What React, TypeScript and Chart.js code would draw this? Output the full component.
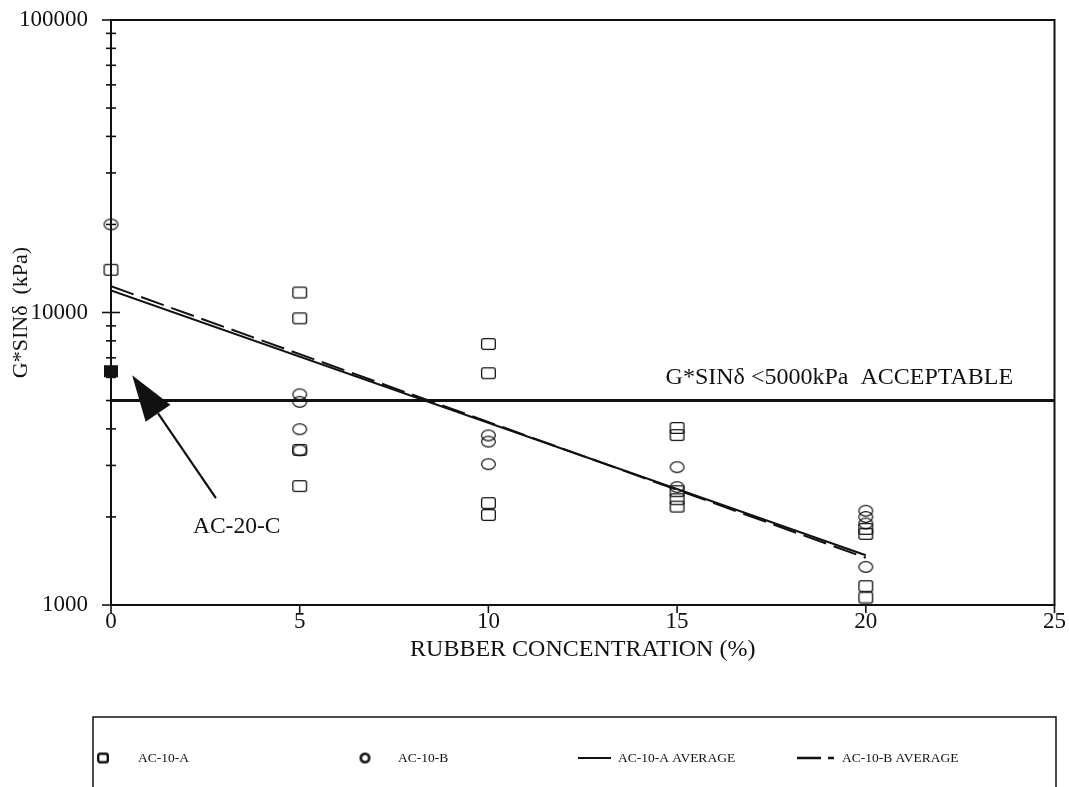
import React, { useEffect, useRef } from "react";
import { Chart, registerables } from "chart.js";

Chart.register(...registerables);

// Rubber concentration (%) and measured G*sinδ (kPa) for each binder
const ac10aX = [0, 5, 5, 5, 5, 10, 10, 10, 10, 15, 15, 15, 15, 15, 20, 20, 20, 20];
const ac10aY = [14000, 11700, 9550, 3390, 2550, 7800, 6200, 2230, 2030, 4030, 3810, 2450, 2300, 2170, 1820, 1750, 1160, 1060];

const ac10bX = [0, 5, 5, 5, 5, 10, 10, 10, 15, 15, 20, 20, 20, 20];
const ac10bY = [20000, 5250, 4950, 3990, 3380, 3800, 3620, 3030, 2960, 2530, 2100, 2000, 1900, 1350];

const ac20cX = [0];
const ac20cY = [6300];

// Trend lines (averages) at 0 % and 20 % rubber
const avgX = [0, 20];
const avgAY = [11900, 1480];
const avgBY = [12300, 1450];

// Acceptance limit
const limitX = [0, 25];
const limitY = [5000, 5000];

const xTicks = [0, 5, 10, 15, 20, 25];
const yMajor = [1000, 10000, 100000];
const yMinor = [2000, 3000, 4000, 5000, 6000, 7000, 8000, 9000, 20000, 30000, 40000, 50000, 60000, 70000, 80000, 90000];

const limitText = "G*SINδ <5000kPa  ACCEPTABLE";
const yTitle = "G*SINδ  (kPa)";
const xTitle = "RUBBER CONCENTRATION (%)";
const arrowText = "AC-20-C";
// arrow: tip, tail and label anchor in data units
const arrowTip = { x: 0.56, y: 6100 };
const arrowTail = { x: 2.78, y: 2320 };
const arrowLabel = { x: 3.33, y: 1850 };
const limitLabel = { x: 19.3, y: 5970 };

const SERIF = "'Liberation Serif', 'Times New Roman', serif";

const pts = (xs: number[], ys: number[]) => xs.map((x, i) => ({ x, y: ys[i] }));

function rectMark(w: number, h: number, lw: number, filled: boolean) {
  const c = document.createElement("canvas");
  c.width = w + 2;
  c.height = h + 2;
  const g = c.getContext("2d")!;
  g.strokeStyle = "#111";
  g.fillStyle = "#111";
  g.lineWidth = lw;
  if (filled) {
    g.fillRect(1, 1, w, h);
  } else {
    g.beginPath();
    (g as any).roundRect(1 + lw / 2, 1 + lw / 2, w - lw, h - lw, 2);
    g.stroke();
  }
  return c;
}

function ellipseMark(w: number, h: number, lw: number) {
  const c = document.createElement("canvas");
  c.width = w + 2;
  c.height = h + 2;
  const g = c.getContext("2d")!;
  g.strokeStyle = "#111";
  g.lineWidth = lw;
  g.beginPath();
  g.ellipse(c.width / 2, c.height / 2, (w - lw) / 2, (h - lw) / 2, 0, 0, Math.PI * 2);
  g.stroke();
  return c;
}

export default function App() {
  const ref = useRef<HTMLCanvasElement | null>(null);

  useEffect(() => {
    document.body.style.margin = "0";
    const canvas = ref.current!;
    const squareMark = rectMark(15, 12, 1.3, false);
    const circleMark = ellipseMark(15, 12, 1.2);
    const filledMark = rectMark(14, 12, 1, true);
    const legendSquare = rectMark(12, 11, 2.4, false);
    const legendCircle = ellipseMark(11, 11, 2.6);

    const framePlugin = {
      id: "frameAndNotes",
      beforeDatasetsDraw(chart: any) {
        const { ctx, chartArea: a, scales } = chart;
        const x = scales.x;
        const y = scales.y;
        ctx.save();
        ctx.strokeStyle = "#111";
        ctx.lineWidth = 2;
        ctx.strokeRect(a.left, a.top, a.right - a.left, a.bottom - a.top);
        // log ticks crossing the value axis
        ctx.lineWidth = 1.6;
        for (const v of [...yMajor, ...yMinor]) {
          const py = y.getPixelForValue(v);
          const len = yMajor.includes(v) ? 9 : 5;
          ctx.beginPath();
          ctx.moveTo(a.left - len, py);
          ctx.lineTo(a.left + len, py);
          ctx.stroke();
        }
        // ticks hanging below the x axis
        for (const v of xTicks) {
          const px = x.getPixelForValue(v);
          ctx.beginPath();
          ctx.moveTo(px, a.bottom);
          ctx.lineTo(px, a.bottom + 8);
          ctx.stroke();
        }
        ctx.restore();
      },
      afterDraw(chart: any) {
        const { ctx, chartArea: a, scales } = chart;
        const x = scales.x;
        const y = scales.y;
        ctx.save();
        ctx.fillStyle = "#111";
        ctx.strokeStyle = "#111";

        // value axis title
        ctx.save();
        ctx.translate(21, (a.top + a.bottom) / 2);
        ctx.rotate(-Math.PI / 2);
        ctx.font = `22px ${SERIF}`;
        ctx.textAlign = "center";
        ctx.textBaseline = "middle";
        ctx.fillText(yTitle, 0, 0);
        ctx.restore();

        // limit label
        ctx.font = `24px ${SERIF}`;
        ctx.textAlign = "center";
        ctx.textBaseline = "middle";
        ctx.fillText(limitText, x.getPixelForValue(limitLabel.x), y.getPixelForValue(limitLabel.y));

        // arrow pointing at AC-20-C
        const tx = x.getPixelForValue(arrowTip.x);
        const ty = y.getPixelForValue(arrowTip.y);
        const sx = x.getPixelForValue(arrowTail.x);
        const sy = y.getPixelForValue(arrowTail.y);
        const dx = tx - sx;
        const dy = ty - sy;
        const L = Math.hypot(dx, dy);
        const ux = dx / L;
        const uy = dy / L;
        const headLen = 46;
        const half = 15;
        const bx = tx - ux * headLen;
        const by = ty - uy * headLen;
        ctx.lineWidth = 2.2;
        ctx.beginPath();
        ctx.moveTo(sx, sy);
        ctx.lineTo(bx, by);
        ctx.stroke();
        ctx.beginPath();
        ctx.moveTo(tx, ty);
        ctx.lineTo(bx - uy * half, by + ux * half);
        ctx.lineTo(bx + uy * half, by - ux * half);
        ctx.closePath();
        ctx.fill();
        ctx.font = `23.5px ${SERIF}`;
        ctx.textAlign = "center";
        ctx.fillText(arrowText, x.getPixelForValue(arrowLabel.x), y.getPixelForValue(arrowLabel.y));

        // legend box
        const boxTop = 717;
        const rowY = 758;
        ctx.lineWidth = 1.5;
        ctx.strokeRect(93, boxTop, 1056 - 93, 120);
        ctx.font = `13.5px ${SERIF}`;
        ctx.textAlign = "left";
        ctx.textBaseline = "middle";
        const ds = chart.data.datasets;
        ctx.drawImage(legendSquare, 103 - legendSquare.width / 2, rowY - legendSquare.height / 2);
        ctx.fillText(ds[0].label, 138, rowY);
        ctx.drawImage(legendCircle, 365 - legendCircle.width / 2, rowY - legendCircle.height / 2);
        ctx.fillText(ds[1].label, 398, rowY);
        ctx.lineWidth = 2;
        ctx.beginPath();
        ctx.moveTo(578, rowY);
        ctx.lineTo(611, rowY);
        ctx.stroke();
        ctx.fillText(ds[3].label, 618, rowY);
        ctx.lineWidth = 2.6;
        ctx.beginPath();
        ctx.moveTo(797, rowY);
        ctx.lineTo(821, rowY);
        ctx.moveTo(828, rowY);
        ctx.lineTo(834, rowY);
        ctx.stroke();
        ctx.fillText(ds[4].label, 842, rowY);
        ctx.restore();
      },
    };

    const chart = new Chart(canvas, {
      type: "scatter",
      data: {
        datasets: [
          {
            label: "AC-10-A",
            data: pts(ac10aX, ac10aY),
            pointStyle: squareMark as any,
            clip: false as any,
            order: 3,
          },
          {
            label: "AC-10-B",
            data: pts(ac10bX, ac10bY),
            pointStyle: circleMark as any,
            clip: false as any,
            order: 3,
          },
          {
            label: "AC-20-C",
            data: pts(ac20cX, ac20cY),
            pointStyle: filledMark as any,
            clip: false as any,
            order: 3,
          },
          {
            label: "AC-10-A AVERAGE",
            data: pts(avgX, avgAY),
            showLine: true,
            borderColor: "#111",
            borderWidth: 2,
            pointRadius: 0,
            order: 1,
          },
          {
            label: "AC-10-B AVERAGE",
            data: pts(avgX, avgBY),
            showLine: true,
            borderColor: "#111",
            borderWidth: 2,
            borderDash: [24, 8],
            pointRadius: 0,
            order: 2,
          },
          {
            label: "LIMIT",
            data: pts(limitX, limitY),
            showLine: true,
            borderColor: "#111",
            borderWidth: 3,
            pointRadius: 0,
            order: 2,
          },
        ],
      },
      options: {
        responsive: false,
        animation: false,
        layout: { padding: { top: 20, right: 8, left: 0, bottom: 0 } },
        plugins: { legend: { display: false }, tooltip: { enabled: false } },
        elements: { point: { radius: 7 } },
        scales: {
          x: {
            type: "linear",
            min: 0,
            max: 25,
            border: { display: false },
            grid: { display: false, drawTicks: false },
            afterBuildTicks: (s: any) => {
              s.ticks = xTicks.map((v) => ({ value: v }));
            },
            afterFit: (s: any) => {
              s.height = 182;
            },
            ticks: {
              padding: 3,
              color: "#111",
              font: { family: SERIF, size: 23 },
              maxRotation: 0,
            },
            title: {
              display: true,
              text: xTitle,
              color: "#111",
              font: { family: SERIF, size: 24 },
              padding: { top: 0, bottom: 123 },
            },
          },
          y: {
            type: "logarithmic",
            min: 1000,
            max: 100000,
            border: { display: false },
            grid: { display: false, drawTicks: false },
            afterBuildTicks: (s: any) => {
              s.ticks = [...yMajor, ...yMinor].sort((p, q) => p - q).map((v) => ({ value: v }));
            },
            afterFit: (s: any) => {
              s.width = 111;
              s.paddingTop = 0;
              s.paddingBottom = 0;
            },
            ticks: {
              autoSkip: false,
              padding: 23,
              color: "#111",
              font: { family: SERIF, size: 23 },
              callback: (v: any) => (yMajor.includes(Number(v)) ? String(v) : ""),
            },
          },
        },
      },
      plugins: [framePlugin as any],
    });

    return () => chart.destroy();
  }, []);

  return (
    <div style={{ width: 1069, height: 787, background: "#fff" }}>
      <canvas ref={ref} width={1069} height={787} />
    </div>
  );
}
